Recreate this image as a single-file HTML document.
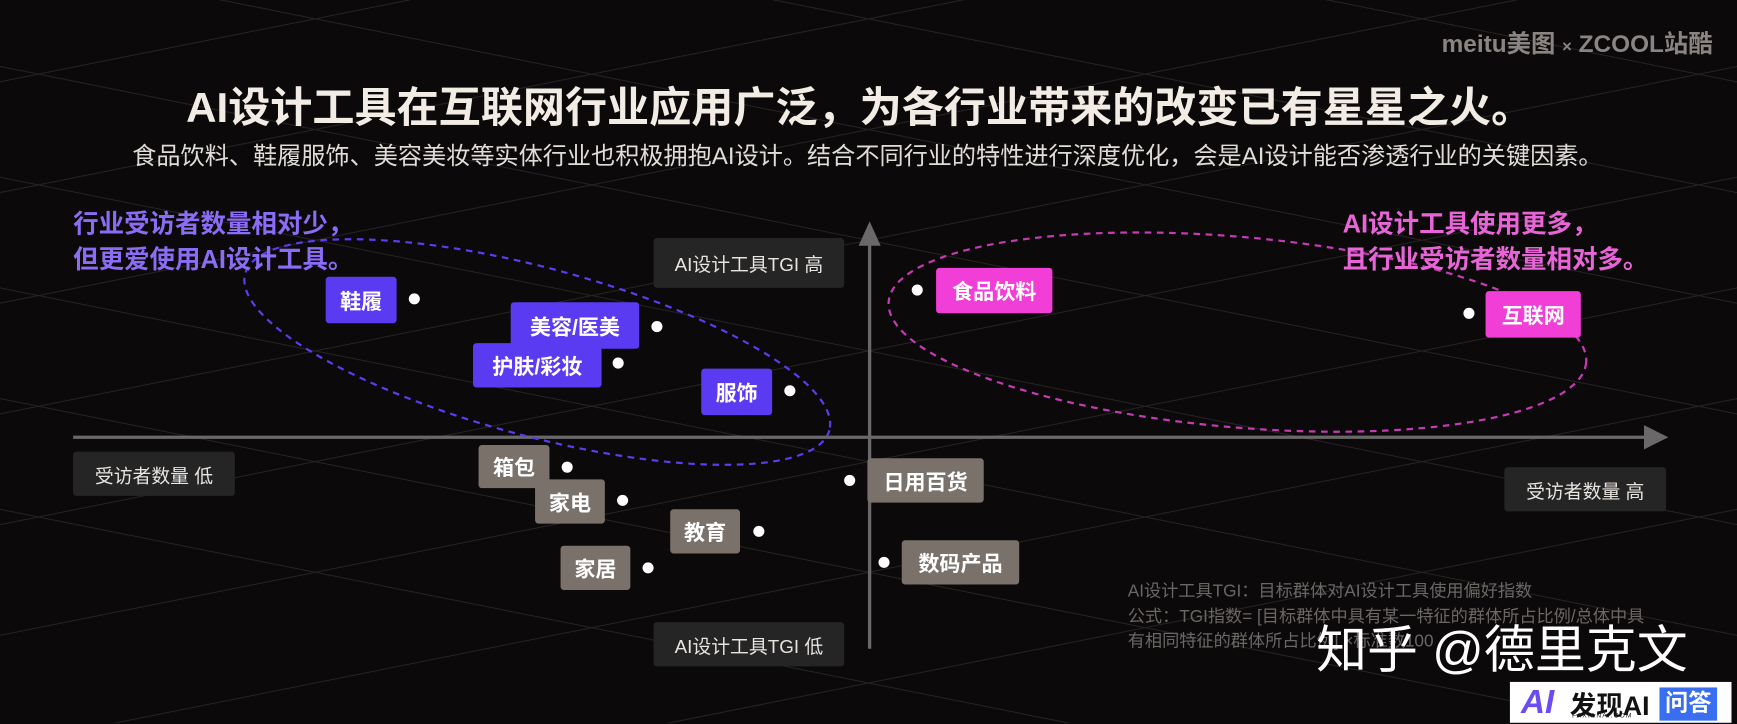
<!DOCTYPE html>
<html><head><meta charset="utf-8"><style>
html,body{margin:0;padding:0;background:#0b0909;overflow:hidden;width:1737px;height:724px}
#w{position:absolute;left:0;top:0;width:1568px;height:653px;transform:scale(1.1078,1.107);transform-origin:0 0;font-family:"Liberation Sans","Noto Sans CJK SC",sans-serif;background:#0b0909;overflow:hidden}
.a{position:absolute;white-space:nowrap}
.box{position:absolute;background:#252525;color:#e8e4e0;font-size:17px;display:flex;align-items:center;justify-content:center;border-radius:3px}
.tag{position:absolute;color:#fff;font-size:19px;font-weight:bold;display:flex;align-items:center;justify-content:center;border-radius:3px}
.p{background:#5a3bf2}.k{background:#f03ed6}.g{background:#7a716b}
.d{position:absolute;width:10px;height:10px;border-radius:50%;background:#fff;margin:-5px 0 0 -5px}
</style></head><body><div id="w">
<svg class="a" style="left:0;top:0" width="1568" height="653">
<g stroke="#242222" stroke-width="1">
<path d="M-400 180 L1968 654 M-400 280 L1968 754 M-400 380 L1968 854 M-400 80 L1968 554 M-400 -20 L1968 454 M-400 -120 L1968 354 M-400 -220 L1968 254 M-400 -320 L1968 154 M-400 -420 L1968 54 M-400 -520 L1968 -46"/>
<path d="M1968 180 L-400 654 M1968 280 L-400 754 M1968 380 L-400 854 M1968 80 L-400 554 M1968 -20 L-400 454 M1968 -120 L-400 354 M1968 -220 L-400 254 M1968 -320 L-400 154 M1968 -420 L-400 54 M1968 -520 L-400 -46"/>
</g>
<line x1="785" y1="215" x2="785" y2="586" stroke="#6a6868" stroke-width="3"/>
<polygon points="785,200 775,222 795,222" fill="#6a6868"/>
<line x1="66" y1="395" x2="1490" y2="395" stroke="#6a6868" stroke-width="3"/>
<polygon points="1506,395 1484,384 1484,406" fill="#6a6868"/>
<ellipse cx="485" cy="318" rx="273" ry="76" transform="rotate(15 485 318)" fill="none" stroke="#5b3cf0" stroke-width="2" stroke-dasharray="6 5"/>
<ellipse cx="1117" cy="300" rx="316" ry="86" transform="rotate(5 1117 300)" fill="none" stroke="#c53bb4" stroke-width="2" stroke-dasharray="6 5"/>
</svg>
<div class="a" style="right:22px;top:22px;color:#8a8583;font-size:22px;font-weight:bold">meitu美图 <span style="font-size:15px">×</span> ZCOOL站酷</div>
<div class="a" style="left:0;width:1552px;text-align:center;top:66px;color:#f3ece4;font-size:38px;font-weight:bold">AI设计工具在互联网行业应用广泛，为各行业带来的改变已有星星之火。</div>
<div class="a" style="left:0;width:1566px;text-align:center;top:124px;color:#e0dcd8;font-size:21.8px">食品饮料、鞋履服饰、美容美妆等实体行业也积极拥抱AI设计。结合不同行业的特性进行深度优化，会是AI设计能否渗透行业的关键因素。</div>
<div class="a" style="left:66px;top:186px;color:#8b6cf5;font-size:23px;font-weight:bold;line-height:32px">行业受访者数量相对少，<br>但更爱使用AI设计工具。</div>
<div class="a" style="left:1212px;top:186px;color:#e865d8;font-size:23px;font-weight:bold;line-height:32px">AI设计工具使用更多，<br>且行业受访者数量相对多。</div>
<div class="box" style="left:590px;top:215px;width:172px;height:45px">AI设计工具TGI 高</div>
<div class="box" style="left:590px;top:562px;width:172px;height:40px">AI设计工具TGI 低</div>
<div class="box" style="left:66px;top:408px;width:146px;height:40px">受访者数量 低</div>
<div class="box" style="left:1358px;top:422px;width:146px;height:40px">受访者数量 高</div>
<div class="tag p" style="left:294px;top:250px;width:64px;height:42px">鞋履</div><div class="d" style="left:374px;top:270px"></div>
<div class="tag p" style="left:461px;top:273px;width:116px;height:42px">美容/医美</div><div class="d" style="left:593px;top:295px"></div>
<div class="tag p" style="left:427px;top:310px;width:116px;height:40px">护肤/彩妆</div><div class="d" style="left:558px;top:328px"></div>
<div class="tag p" style="left:633px;top:333px;width:64px;height:42px">服饰</div><div class="d" style="left:713px;top:353px"></div>
<div class="tag k" style="left:845px;top:242px;width:105px;height:41px">食品饮料</div><div class="d" style="left:828px;top:262px"></div>
<div class="tag k" style="left:1341px;top:263px;width:86px;height:42px">互联网</div><div class="d" style="left:1326px;top:283px"></div>
<div class="tag g" style="left:432px;top:402px;width:64px;height:39px">箱包</div><div class="d" style="left:512px;top:422px"></div>
<div class="tag g" style="left:483px;top:433px;width:63px;height:40px">家电</div><div class="d" style="left:562px;top:452px"></div>
<div class="tag g" style="left:605px;top:460px;width:63px;height:40px">教育</div><div class="d" style="left:685px;top:480px"></div>
<div class="tag g" style="left:506px;top:493px;width:63px;height:40px">家居</div><div class="d" style="left:585px;top:513px"></div>
<div class="tag g" style="left:783px;top:414px;width:105px;height:40px">日用百货</div><div class="d" style="left:767px;top:434px"></div>
<div class="tag g" style="left:814px;top:488px;width:106px;height:40px">数码产品</div><div class="d" style="left:798px;top:508px"></div>
<div class="a" style="left:1018px;top:524px;color:#6b6765;font-size:15.5px;line-height:22.5px">AI设计工具TGI：目标群体对AI设计工具使用偏好指数<br>公式：TGI指数= [目标群体中具有某一特征的群体所占比例/总体中具<br>有相同特征的群体所占比例] ×标准数100</div>
<div class="a" style="left:1188px;top:551px;color:#fff;font-size:46px">知乎 @德里克文</div>
<div class="a" style="left:1363px;top:616px;width:200px;height:37px;background:#fff;overflow:hidden">
<div class="a" style="left:10px;top:2px;font-size:30px;font-weight:bold;font-style:italic;color:#6a4cf0">AI</div>
<div class="a" style="left:54px;top:2px;font-size:24px;font-weight:bold;color:#111">发现AI</div>
<div class="a" style="left:56px;top:28px;font-size:6px;line-height:7px;color:#111;letter-spacing:1px">FAXIANAI.COM</div>
<div class="a" style="left:135px;top:5px;width:52px;height:30px;background:#3a6ef0;color:#fff;font-size:21px;font-weight:bold;text-align:center;line-height:30px">问答</div>
</div>
</div></body></html>
